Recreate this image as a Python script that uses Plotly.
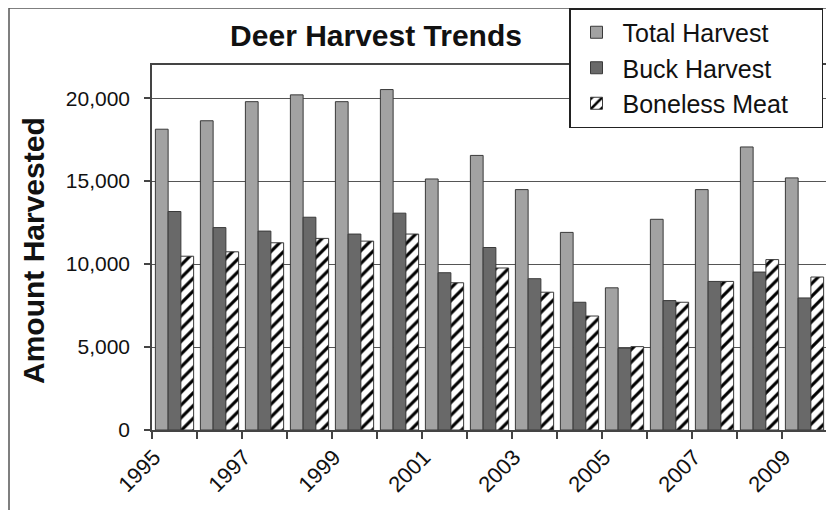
import plotly.graph_objects as go

years = [1995, 1996, 1997, 1998, 1999, 2000, 2001, 2002, 2003, 2004, 2005, 2006, 2007, 2008, 2009]
total_harvest = [18130, 18640, 19790, 20200, 19790, 20520, 15130, 16550, 14490, 11910, 8570, 12700, 14490, 17060, 15195]
buck_harvest = [13170, 12200, 11990, 12825, 11810, 13070, 9480, 11000, 9120, 7700, 4925, 7800, 8955, 9520, 7960]
boneless_meat = [10475, 10740, 11285, 11550, 11385, 11810, 8875, 9765, 8305, 6870, 5025, 7700, 8955, 10270, 9220]
series_names = ["Total Harvest", "Buck Harvest", "Boneless Meat"]
label_years = [1995, 1997, 1999, 2001, 2003, 2005, 2007, 2009]
y_ticks = [0, 5000, 10000, 15000, 20000]

FONT = "Liberation Sans, Arial, sans-serif"
OFF = 8                      # page body margin
W, H = 834 - OFF, 510 - OFF  # figure size
# plot area in page pixels: x 152..827, y 65..430
PX0, PX1, PY0, PY1 = 152, 827, 65, 430
L, T = PX0 - OFF, PY0 - OFF
R, B = W - (PX1 - OFF), H - (PY1 - OFF)
pw, ph = PX1 - PX0, PY1 - PY0

def px_x(p):
    return (p - PX0) / pw

def px_y(p):
    return (PY1 - p) / ph

boundaries = [y - 0.5 for y in years] + [years[-1] + 0.5]
label_pos = [y - 0.45 for y in label_years]
PAD = "\u00a0" * 4

fig = go.Figure()
fig.add_trace(go.Bar(x=years, y=total_harvest, name=series_names[0] + PAD,
                     marker=dict(color="#a2a2a2", line=dict(color="#3a3a3a", width=1))))
fig.add_trace(go.Bar(x=years, y=buck_harvest, name=series_names[1] + PAD,
                     marker=dict(color="#696969", line=dict(color="#3a3a3a", width=1))))
fig.add_trace(go.Bar(x=years, y=boneless_meat, name=series_names[2] + PAD,
                     marker=dict(color="white", line=dict(color="#3a3a3a", width=1),
                                 pattern=dict(shape="/", fgcolor="black", bgcolor="white",
                                              size=9, solidity=0.35, fillmode="replace"))))

fig.update_layout(
    width=W, height=H,
    margin=dict(l=L, r=R, t=T, b=B, autoexpand=False),
    paper_bgcolor="white", plot_bgcolor="white",
    barmode="group", bargap=0.15, bargroupgap=0,
    font=dict(family=FONT, color="#111111"),
    title=dict(text="<b>Deer Harvest Trends</b>", x=px_x(376), xref="paper", xanchor="center",
               y=1 - (35 - OFF) / H, yanchor="middle", font=dict(size=30, family=FONT, color="#111")),
    legend=dict(x=px_x(569), y=px_y(8), xanchor="left", yanchor="top",
                bgcolor="white", bordercolor="#222", borderwidth=1.5,
                font=dict(size=25, family=FONT, color="#111"),
                tracegroupgap=0, itemwidth=42),
    showlegend=True,
)

fig.update_xaxes(
    range=[1994.5, 2009.5], automargin=False,
    tickmode="array", tickvals=label_pos, ticktext=[str(y) for y in label_years],
    ticks="", tickangle=-45, ticklabelstandoff=4,
    tickfont=dict(size=22, family=FONT, color="#111"),
    showgrid=False, showline=True, linecolor="#444", linewidth=1.5, mirror=True,
    minor=dict(tickmode="array", tickvals=boundaries, ticks="outside", ticklen=7,
               tickcolor="#444", tickwidth=1.5, showgrid=False),
    zeroline=False,
)
fig.update_yaxes(
    range=[0, 22000], automargin=False,
    tickmode="array", tickvals=y_ticks, ticktext=[f"{v:,}" for v in y_ticks],
    ticks="outside", ticklen=6, tickcolor="#444", tickwidth=1.5, ticklabelstandoff=10,
    tickfont=dict(size=21, family=FONT, color="#111"),
    showgrid=True, gridcolor="#555", gridwidth=1.2,
    showline=True, linecolor="#444", linewidth=1.5, mirror=True,
    zeroline=False,
)

fig.add_annotation(text="<b>Amount Harvested</b>", textangle=-90,
                   xref="paper", yref="paper", x=px_x(33), y=px_y(251),
                   xanchor="center", yanchor="middle", showarrow=False,
                   font=dict(size=30, family=FONT, color="#111"))

# outer chart border (left and top edges visible in the frame)
fig.add_shape(type="rect", xref="paper", yref="paper",
              x0=px_x(9), x1=px_x(850), y0=px_y(525), y1=px_y(8),
              line=dict(color="#555", width=1.5), fillcolor="rgba(0,0,0,0)", layer="below")

fig.write_html("out.html")
